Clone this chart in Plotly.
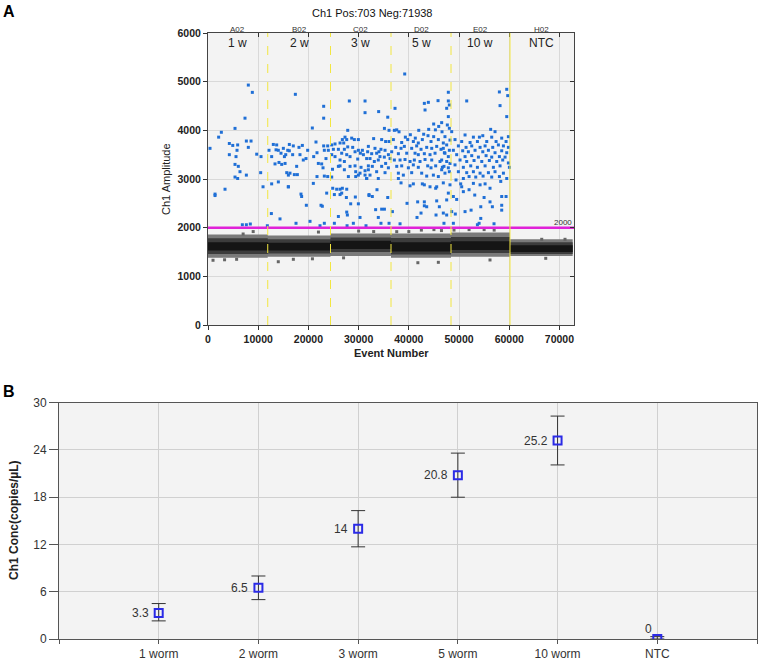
import plotly.graph_objects as go

# ---------------- Panel A data ----------------
well_ids = ["A02", "B02", "C02", "D02", "E02", "H02"]
sample_labels = ["1 w", "2 w", "3 w", "5 w", "10 w", "NTC"]
well_start = [0, 11900, 24400, 36450, 48400, 60150]
well_end = [11900, 24400, 36450, 48400, 60150, 72641]
threshold = 2000

# negative droplet cloud per well (outer / middle / core amplitude bands)
neg_outer_lo = [1380, 1400, 1420, 1380, 1400, 1420]
neg_outer_hi = [1860, 1840, 1880, 1880, 1900, 1760]
neg_mid_lo = [1460, 1470, 1500, 1450, 1480, 1460]
neg_mid_hi = [1780, 1760, 1800, 1790, 1810, 1700]
neg_core_lo = [1530, 1530, 1560, 1510, 1540, 1500]
neg_core_hi = [1700, 1690, 1730, 1700, 1720, 1640]

neg_outliers = [
    (1000, 1330), (3300, 1340), (5700, 1350), (7000, 1870), (9000, 1920),
    (14000, 1300), (17000, 1350), (20800, 1360), (22000, 1910),
    (27000, 1380), (30000, 1930), (33000, 1920),
    (37590, 1918), (40000, 1920), (42500, 1950), (45000, 1960), (46500, 1940),
    (41800, 1280), (45880, 1288),
    (49000, 1950), (52000, 1960), (55000, 1960), (57000, 1950), (56170, 1336),
    (66470, 1761), (67270, 1370), (71110, 1761),
]

a02_pos = [
    (400, 3630), (1400, 2690), (1400, 2660), (2120, 3860), (2660, 3960),
    (3390, 2790), (4250, 3730), (4930, 3690), (5380, 4040), (5780, 3590),
    (4250, 3500), (5580, 3460), (5380, 3300), (6040, 3260), (6370, 3150),
    (7640, 3080), (5380, 3040), (5910, 3010), (7370, 4250), (8030, 4930),
    (8830, 4780), (7640, 3780), (8570, 3780), (8030, 3650), (9700, 3510),
    (10560, 3460), (10490, 3130), (10960, 2840), (6840, 2060), (7640, 2060),
    (8430, 2075), (11820, 2040), (5910, 3700),
]
b02_pos = [
    (13010, 3710), (13680, 3700), (12150, 3590), (13550, 3600), (14010, 3590),
    (15010, 3630), (14540, 3530), (15480, 3500), (15220, 3460), (12680, 3460),
    (15880, 3590), (13350, 3310), (14140, 3340), (14680, 3300), (15350, 3320),
    (15680, 3130), (16010, 3080), (14010, 2940), (12680, 2900), (16010, 2840),
    (12620, 2290), (14340, 2180), (17400, 4740), (20780, 4048), (16200, 3710),
    (16990, 3680), (18120, 3650), (18790, 3690), (16200, 3580), (16860, 3500),
    (18320, 3500), (18980, 3390), (19850, 3590), (19520, 3420), (21510, 3760),
    (21710, 3540), (21050, 3460), (23040, 3680), (23840, 3680), (23170, 3590),
    (23970, 3590), (21980, 3320), (22640, 3310), (23500, 3420), (17660, 3260),
    (16330, 3120), (17200, 3090), (17800, 3090), (21710, 3050), (23170, 3060),
    (23840, 3050), (22910, 3230), (16000, 2840), (18520, 2690), (18650, 2640),
    (19590, 2460), (20980, 2910), (22510, 2460), (22770, 2440), (23640, 2710),
    (17530, 2090), (20320, 2130), (23170, 2090), (22310, 2040), (23040, 4494),
    (23040, 4250),
]
c02_pos = [
    (28150, 4603), (31280, 4603), (31280, 4363), (27830, 4000), (27290, 3860),
    (26760, 3810), (27630, 3810), (28620, 3840), (29150, 3810), (29950, 3810),
    (27030, 3740), (26300, 3740), (25300, 3720), (24640, 3700), (24970, 3610),
    (25970, 3610), (27160, 3610), (27830, 3660), (28820, 3650), (29290, 3560),
    (29950, 3590), (30750, 3590), (30350, 3530), (30950, 3500), (31800, 3560),
    (26630, 3530), (27630, 3500), (28290, 3460), (25300, 3460), (24640, 3500),
    (26300, 3390), (27160, 3360), (29820, 3410), (25970, 3260), (26300, 3270),
    (24800, 3200), (27160, 3190), (28290, 3260), (29290, 3270), (30480, 3240),
    (29420, 3150), (30280, 3120), (31280, 3170), (31940, 3190), (29420, 3050),
    (29950, 3080), (31280, 3080), (31610, 3010), (27960, 3050), (24640, 3040),
    (24840, 2810), (25630, 2790), (26300, 2790), (26760, 2810), (27630, 2790),
    (25170, 2680), (26300, 2680), (26630, 2710), (27560, 2620), (29350, 2630),
    (28420, 2490), (29950, 2490), (27630, 2320), (27760, 2260), (25970, 2230),
    (30280, 2210), (28950, 2090), (25170, 2090), (27700, 2040), (31470, 2040),
    (32070, 2680), (33990, 4385), (35800, 4270), (35140, 4040), (36060, 4000),
    (32990, 3830), (34590, 3810), (35380, 3770), (36060, 3770), (31940, 3670),
    (33260, 3630), (34450, 3610), (35260, 3590), (34050, 3560), (33590, 3530),
    (32600, 3520), (31600, 3420), (32270, 3420), (34250, 3460), (35120, 3450),
    (35930, 3500), (33130, 3360), (33920, 3390), (35380, 3320), (36260, 3420),
    (31940, 3270), (32730, 3260), (34590, 3260), (35930, 3230), (33590, 3150),
    (35260, 3130), (32270, 3080), (31600, 3010), (33920, 3010), (32070, 2660),
    (32730, 2640), (33660, 2780), (35800, 2620), (33390, 2370), (34590, 2380),
    (33920, 2210), (34450, 2090), (35140, 2380), (36060, 2090),
]
d02_pos = [
    (39180, 5158), (37250, 4452), (43090, 4554), (43890, 4575), (45820, 4610),
    (43230, 4418), (44950, 4130), (41980, 4000), (43960, 4020), (45290, 4010),
    (45950, 4080), (37120, 4000), (37590, 4010), (38050, 3970), (39310, 3860),
    (40300, 3910), (41290, 3840), (42960, 3920), (43820, 3890), (44950, 3870),
    (46610, 3970), (36920, 3810), (38580, 3750), (39780, 3810), (40900, 3770),
    (41890, 3740), (42690, 3810), (44420, 3770), (45880, 3810), (46870, 3740),
    (37390, 3650), (38450, 3630), (39110, 3670), (40570, 3630), (41560, 3680),
    (42430, 3610), (43560, 3650), (44560, 3630), (45550, 3670), (46410, 3610),
    (36590, 3560), (37920, 3520), (39580, 3530), (41240, 3530), (41890, 3500),
    (43090, 3520), (44220, 3500), (45220, 3530), (47080, 3540), (37120, 3390),
    (38250, 3390), (39240, 3400), (40240, 3360), (41100, 3390), (42230, 3360),
    (43230, 3400), (44560, 3390), (46210, 3360), (37590, 3260), (38580, 3270),
    (39910, 3230), (40900, 3290), (41890, 3240), (43760, 3270), (44420, 3230),
    (45350, 3270), (46680, 3240), (37920, 3120), (38910, 3080), (40570, 3130),
    (42560, 3120), (43560, 3060), (44890, 3080), (45880, 3050), (37920, 3010),
    (38450, 2920), (40240, 2860), (40900, 2900), (42690, 2900), (43090, 2880),
    (44220, 2840), (45350, 2810), (45550, 2840), (39640, 2500), (41760, 2530),
    (43090, 2530), (45550, 2550), (43090, 2450), (43560, 2430), (36730, 2330),
    (42430, 2300), (45420, 2260), (41630, 2210), (38250, 2080), (46080, 2430),
    (47870, 4782), (47870, 4604), (48070, 4521), (47540, 4453), (47870, 4282),
    (47670, 4110), (46540, 4158), (48070, 4042), (47200, 3870), (48200, 3800),
    (47540, 3700), (46870, 3630), (48070, 3590), (47200, 3530), (47870, 3460),
    (46540, 3390), (47540, 3360), (48200, 3320), (47000, 3260), (47870, 3230),
    (47200, 3120), (48070, 3150), (46540, 3190), (46870, 2920), (48200, 2880),
    (47870, 2710), (47540, 2570), (46870, 2300), (47540, 2260), (47000, 2090),
]
e02_pos = [
    (48540, 3973), (48540, 2330), (51530, 4604), (58040, 4789), (59500, 4843),
    (58170, 4508), (59700, 4713), (59500, 4282), (56300, 4020), (57170, 3973),
    (51200, 3905), (52860, 3860), (54060, 3860), (54730, 3890), (56510, 3860),
    (58500, 3840), (59830, 3870), (49200, 3810), (50530, 3770), (52200, 3750),
    (53660, 3770), (55520, 3770), (57380, 3770), (59370, 3770), (49870, 3680),
    (51400, 3650), (52530, 3680), (54190, 3650), (55190, 3680), (56710, 3650),
    (57840, 3700), (58840, 3680), (59830, 3650), (48870, 3590), (50730, 3580),
    (51860, 3560), (53190, 3590), (54730, 3560), (55850, 3590), (57170, 3540),
    (58500, 3580), (59500, 3540), (49530, 3500), (51200, 3460), (52530, 3480),
    (53860, 3450), (55390, 3480), (56510, 3450), (58040, 3460), (59170, 3450),
    (50200, 3390), (51530, 3360), (52990, 3380), (54530, 3360), (56040, 3380),
    (57510, 3360), (58700, 3390), (59830, 3330), (49200, 3290), (50860, 3240),
    (52330, 3270), (53660, 3240), (55190, 3270), (56840, 3240), (58170, 3270),
    (60030, 3240), (49870, 3150), (51530, 3130), (52860, 3150), (54190, 3120),
    (55850, 3130), (57170, 3150), (58840, 3120), (52000, 3050), (53330, 3040),
    (54790, 3060), (56510, 3040), (58040, 3050), (59500, 3010), (50860, 3010),
    (49400, 2980), (50330, 2900), (52860, 2910), (54190, 2880), (55190, 2900),
    (56170, 2810), (50530, 2840), (52000, 2780), (58310, 2950), (50860, 2740),
    (58500, 2640), (59370, 2640), (53130, 2670), (54990, 2620), (48870, 2640),
    (49530, 2580), (56170, 2530), (54330, 2430), (56640, 2430), (58500, 2460),
    (58500, 2360), (51200, 2330), (52400, 2360), (49260, 2280), (54330, 2190),
    (54000, 2090), (53660, 2060), (56970, 2080), (48870, 2090),
]

# ---------------- Panel B data ----------------
samples = ["1 worm", "2 worm", "3 worm", "5 worm", "10 worm", "NTC"]
conc = [3.3, 6.5, 14, 20.8, 25.2, 0]
conc_upper = [4.5, 8.0, 16.3, 23.6, 28.3, 0.3]
conc_lower = [2.3, 5.0, 11.7, 18.0, 22.1, 0.0]

# ---------------- layout helpers ----------------
W, H = 760, 662
FONT = "Liberation Sans"
A_xmax = 72900


def xp(px):
    return px / W


def yp(py):
    return 1 - py / H


fig = go.Figure()


def band_trace(lo, hi, color):
    xs, ys = [], []
    for s, e, l, h in zip(well_start, well_end, lo, hi):
        xs += [s, e, e, s, s, None]
        ys += [l, l, h, h, l, None]
    return go.Scatter(x=xs, y=ys, mode="lines", fill="toself", fillcolor=color,
                      line=dict(width=0), hoverinfo="skip", showlegend=False,
                      xaxis="x", yaxis="y")


fig.add_trace(band_trace(neg_outer_lo, neg_outer_hi, "#7a7a7a"))
fig.add_trace(band_trace(neg_mid_lo, neg_mid_hi, "#3c3c3c"))
fig.add_trace(band_trace(neg_core_lo, neg_core_hi, "#151515"))

fig.add_trace(go.Scatter(
    x=[p[0] for p in neg_outliers], y=[p[1] for p in neg_outliers],
    mode="markers", marker=dict(symbol="square", size=3, color="#666666"),
    showlegend=False, hoverinfo="skip", xaxis="x", yaxis="y"))

all_pos = a02_pos + b02_pos + c02_pos + d02_pos + e02_pos
fig.add_trace(go.Scatter(
    x=[p[0] for p in all_pos], y=[p[1] for p in all_pos],
    mode="markers", marker=dict(symbol="square", size=3, color="#1f6fd6"),
    showlegend=False, hoverinfo="skip", xaxis="x", yaxis="y"))

fig.add_trace(go.Scatter(
    x=[0, A_xmax], y=[threshold, threshold], mode="lines",
    line=dict(color="#e022d8", width=2.5), showlegend=False, hoverinfo="skip",
    xaxis="x", yaxis="y"))

# dummy trace for inner-tick overlay axes
fig.add_trace(go.Scatter(x=[None], y=[None], xaxis="x3", yaxis="y3",
                         showlegend=False, hoverinfo="skip"))

# Panel B
fig.add_trace(go.Scatter(
    x=list(range(len(samples))), y=conc,
    mode="markers",
    marker=dict(symbol="square-open", size=8, color="#2b2be6",
                line=dict(width=2, color="#2b2be6")),
    error_y=dict(type="data", symmetric=False,
                 array=[u - v for u, v in zip(conc_upper, conc)],
                 arrayminus=[v - l for v, l in zip(conc, conc_lower)],
                 color="#333333", thickness=1, width=7),
    showlegend=False, xaxis="x2", yaxis="y2"))

# yellow well boundaries
shapes = []
for i, b in enumerate(well_end[:-1]):
    shapes.append(dict(type="line", xref="x", yref="y", x0=b, x1=b, y0=0, y1=6000,
                       line=dict(color="#f2e640", width=1,
                                 dash="solid" if i == len(well_end) - 2 else "dash")))

annotations = []
for wid, lab, s, e in zip(well_ids, sample_labels, well_start, well_end):
    c = (s + e) / 2
    annotations.append(dict(x=c, y=yp(29), xref="x", yref="paper", text=wid,
                            showarrow=False, font=dict(family=FONT, size=8, color="#333"),
                            xanchor="center", yanchor="middle"))
    annotations.append(dict(x=c, y=5800, xref="x", yref="y", text=lab,
                            showarrow=False, font=dict(family=FONT, size=12, color="#222"),
                            xanchor="center", yanchor="middle"))

# value labels for panel B
for i, v in enumerate(conc):
    if v == 0:
        annotations.append(dict(x=i, y=v, xref="x2", yref="y2", text=f"{v:g}",
                                showarrow=False, xanchor="center", yanchor="middle",
                                xshift=-9, yshift=10,
                                font=dict(family=FONT, size=12, color="#333")))
    else:
        annotations.append(dict(x=i, y=v, xref="x2", yref="y2", text=f"{v:g}",
                                showarrow=False, xanchor="right", yanchor="middle",
                                xshift=-8,
                                font=dict(family=FONT, size=12, color="#333")))

annotations += [
    dict(x=A_xmax, y=threshold, xref="x", yref="y", text=str(threshold), showarrow=False,
         font=dict(family=FONT, size=8, color="#333"), xanchor="right", yanchor="bottom",
         yshift=-1),
    dict(x=xp(372), y=yp(13), xref="paper", yref="paper", text="Ch1 Pos:703 Neg:71938",
         showarrow=False, font=dict(family=FONT, size=11, color="#111"),
         xanchor="center", yanchor="middle"),
    dict(x=xp(166), y=yp(179), xref="paper", yref="paper", text="Ch1 Amplitude",
         showarrow=False, textangle=-90, font=dict(family=FONT, size=11, color="#222"),
         xanchor="center", yanchor="middle"),
    dict(x=xp(391), y=yp(353), xref="paper", yref="paper", text="Event Number",
         showarrow=False, font=dict(family=FONT, size=11, color="#222", weight="bold"),
         xanchor="center", yanchor="middle"),
    dict(x=xp(14), y=yp(520), xref="paper", yref="paper", text="Ch1 Conc(copies/µL)",
         showarrow=False, textangle=-90,
         font=dict(family=FONT, size=12, color="#222", weight="bold"),
         xanchor="center", yanchor="middle"),
    dict(x=xp(9), y=yp(11), xref="paper", yref="paper", text="A",
         showarrow=False, font=dict(family=FONT, size=16, color="#000", weight="bold"),
         xanchor="center", yanchor="middle"),
    dict(x=xp(9), y=yp(391), xref="paper", yref="paper", text="B",
         showarrow=False, font=dict(family=FONT, size=16, color="#000", weight="bold"),
         xanchor="center", yanchor="middle"),
]

A_xdom = [xp(208), xp(574)]
A_ydom = [yp(325), yp(33)]
B_xdom = [xp(59), xp(757)]
B_ydom = [yp(639), yp(402.7)]

tickfontA = dict(family=FONT, size=10.5, color="#222", weight="bold")
common = dict(automargin=False, zeroline=False)

fig.update_layout(
    template="none",
    width=W, height=H, autosize=False,
    margin=dict(l=0, r=0, t=0, b=0, pad=0),
    paper_bgcolor="white", plot_bgcolor="#f3f3f3",
    showlegend=False,
    shapes=shapes, annotations=annotations,
    xaxis=dict(domain=A_xdom, anchor="y", range=[0, A_xmax],
               tickvals=list(range(0, 70001, 10000)), tickformat="d",
               ticks="outside", ticklen=4,
               tickcolor="#333", showline=True, linecolor="#444", mirror=True,
               showgrid=True, gridcolor="#d9d9d9", tickfont=tickfontA, **common),
    yaxis=dict(domain=A_ydom, anchor="x", range=[0, 6000],
               tickvals=list(range(0, 6001, 1000)), tickformat="d",
               ticks="outside", ticklen=4,
               tickcolor="#333", showline=True, linecolor="#444", mirror=True,
               showgrid=True, gridcolor="#d9d9d9", tickfont=tickfontA, **common),
    xaxis3=dict(overlaying="x", anchor="y", side="top", range=[0, A_xmax],
                tickvals=list(range(0, 70001, 10000)), ticks="inside", ticklen=4,
                tickcolor="#333", showticklabels=False, showgrid=False,
                showline=False, **common),
    yaxis3=dict(overlaying="y", anchor="x", side="right", range=[0, 6000],
                tickvals=list(range(0, 6001, 1000)), ticks="inside", ticklen=4,
                tickcolor="#333", showticklabels=False, showgrid=False,
                showline=False, **common),
    xaxis2=dict(domain=B_xdom, anchor="y2", range=[-1, len(samples)],
                tickvals=list(range(-1, len(samples) + 1)),
                ticktext=[""] + samples + [""],
                ticks="outside", ticklen=4, tickcolor="#555",
                showline=True, linecolor="#555", mirror=True,
                showgrid=True, gridcolor="#d0d0d0",
                tickfont=dict(family=FONT, size=12, color="#333"), **common),
    yaxis2=dict(domain=B_ydom, anchor="x2", range=[0, 30],
                tickvals=list(range(0, 31, 6)), ticks="outside", ticklen=9,
                tickcolor="#555", showline=True, linecolor="#555", mirror=True,
                showgrid=True, gridcolor="#d0d0d0",
                tickfont=dict(family=FONT, size=12, color="#333"), **common),
)

fig.write_html(
    "out.html",
    config={"displayModeBar": False},
    post_script="document.body.style.margin='0px';document.body.style.overflow='hidden';",
)
